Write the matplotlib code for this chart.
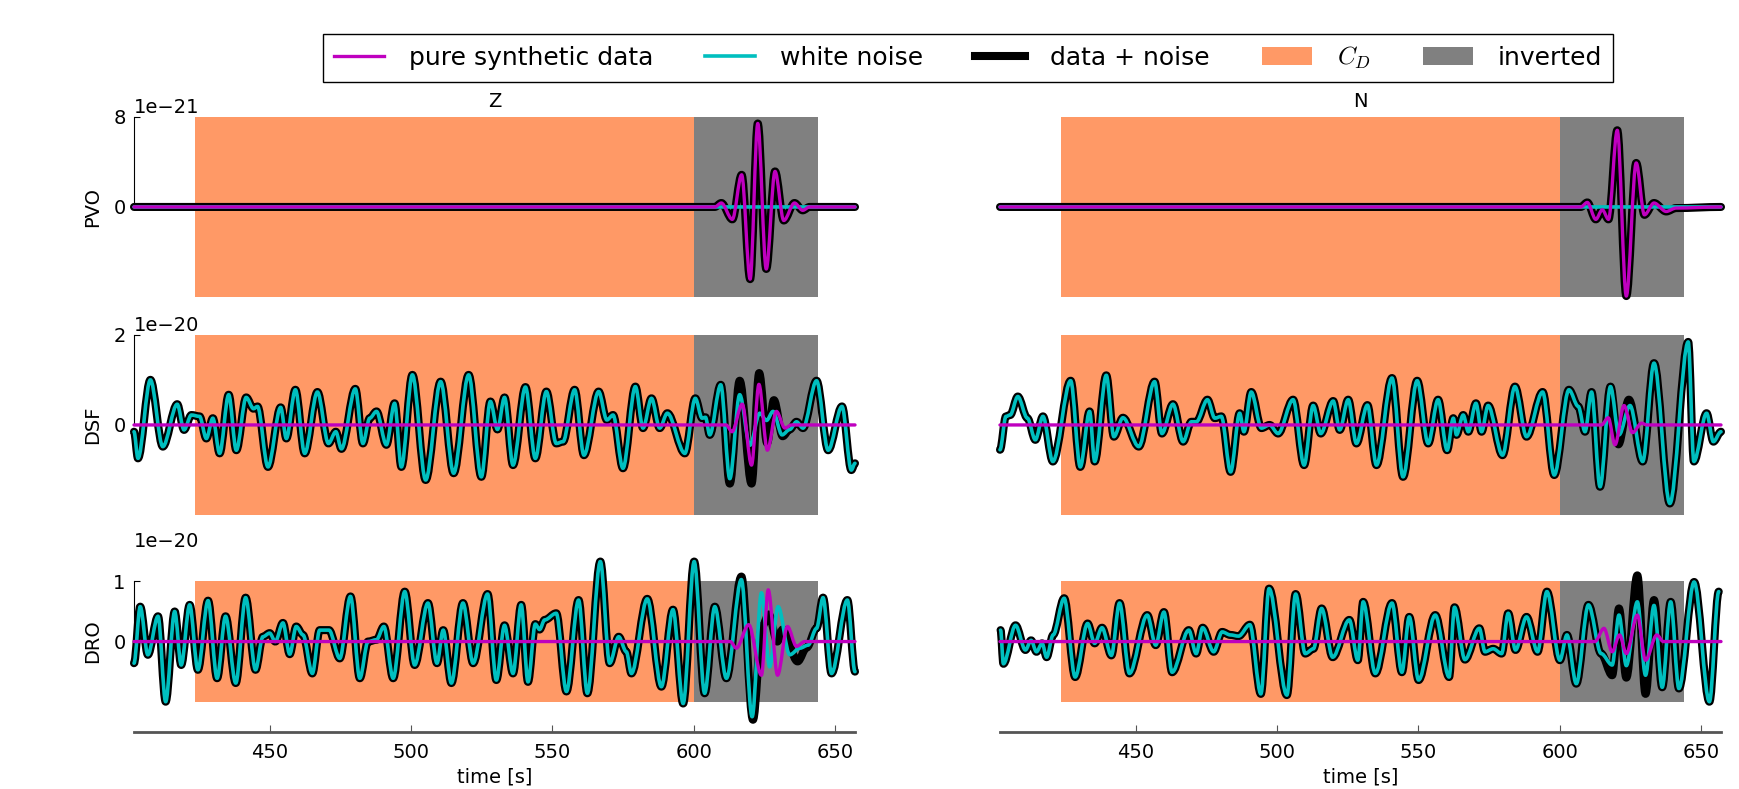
import numpy as np
import matplotlib
matplotlib.use('Agg')
import matplotlib.pyplot as plt
from matplotlib.path import Path
from matplotlib.patches import PathPatch, Patch
from matplotlib.lines import Line2D

# time windows [s]
cd_window = [423.5, 600.0]
inv_window = [600.0, 644.0]
t_range = [402.0, 657.1]

# ---- PVO (1e-21) : pure synthetic data, noise ~ 0 ----
pvo_z_sig_t = [402, 607.5, 609.8, 613.7, 617.0, 620.0, 622.7, 625.7, 628.8, 631.9, 635.7, 638.6, 641.0, 657.1]
pvo_z_sig_v = [0, 0, 0.35, -1.1, 2.85, -6.4, 7.4, -5.5, 3.15, -1.2, 0.35, -0.3, 0, 0]
pvo_n_sig_t = [402, 607.5, 609.8, 612.8, 615.1, 617.3, 620.4, 623.6, 627.1, 630.0, 633.4, 637.7, 641.2, 657.1]
pvo_n_sig_v = [0, 0, 0.4, -1.1, -0.25, -1.1, 6.8, -7.9, 3.9, -0.7, 0.35, -0.4, -0.1, 0]
pvo_noise_t = [402, 657.1]
pvo_noise_v = [0, 0]

# ---- DSF (1e-20) ----
dsf_z_noise_t = [402.0, 403.4, 407.8, 412.2, 417.3, 419.7, 422.3, 425.2, 427.6, 429.9, 432.3, 435.5,
                 438.2, 441.7, 444.3, 445.7, 449.4, 453.9, 455.9, 459.1, 462.4, 466.9, 470.8, 473.4,
                 475.4, 480.3, 483.0, 485.4, 487.8, 491.3, 494.2, 496.6, 500.5, 505.2, 510.5, 515.1,
                 520.4, 524.9, 528.1, 530.6, 533.1, 536.1, 540.5, 544.0, 547.9, 551.4, 553.8, 557.9,
                 561.2, 566.4, 569.3, 571.5, 575.0, 579.4, 582.1, 585.1, 588.0, 590.7, 596.9, 600.6,
                 603.0, 604.2, 605.7, 609.6, 612.8, 616.3, 619.9, 623.4, 625.8, 628.1, 631.3, 634.0,
                 636.4, 638.7, 643.5, 647.6, 652.5, 655.8, 657.1]
dsf_z_noise_v = [-0.15, -0.74, 1.0, -0.48, 0.46, -0.11, 0.22, 0.19, -0.3, 0.15, -0.63, 0.67,
                 -0.56, 0.61, 0.36, 0.41, -0.93, 0.39, -0.3, 0.78, -0.63, 0.73, -0.41, -0.15,
                 -0.53, 0.8, -0.41, 0.15, 0.3, -0.44, 0.48, -0.93, 1.11, -1.22, 0.96, -1.07,
                 1.11, -1.15, 0.52, -0.1, 0.61, -0.89, 0.84, -0.74, 0.74, -0.41, -0.37, 0.78,
                 -0.67, 0.74, 0.11, 0.22, -0.96, 0.85, -0.07, 0.59, -0.07, 0.26, -0.63, 0.59,
                 0.15, 0.17, -0.22, 0.89, -1.19, 0.67, -0.45, 0.26, 0.1, 0.3, -0.22, -0.1,
                 0.07, -0.07, 0.98, -0.56, 0.41, -1.0, -0.85]
dsf_z_sig_t = [402, 611.5, 613.6, 617.2, 620.5, 623.1, 626.1, 629.3, 632.3, 634.6, 657.1]
dsf_z_sig_v = [0, 0, -0.15, 0.46, -0.89, 0.9, -0.56, 0.3, -0.07, 0, 0]
dsf_z_sum_t = [612.8, 616.3, 620.5, 623.2, 626.0, 628.4, 631.5, 634.0, 636.4]
dsf_z_sum_v = [-1.3, 0.98, -1.3, 1.15, -0.4, 0.55, -0.25, -0.1, 0.07]

dsf_n_noise_t = [402.0, 404.1, 405.6, 408.3, 411.7, 414.5, 417.2, 420.7, 427.0, 430.4, 433.7, 435.5,
                 439.6, 442.3, 445.5, 451.1, 456.7, 459.3, 463.2, 466.8, 469.7, 471.5, 475.4, 478.0,
                 480.3, 483.6, 486.8, 488.3, 490.9, 494.5, 497.4, 500.4, 505.7, 509.6, 512.8, 515.5,
                 519.9, 522.2, 525.2, 528.1, 532.0, 535.2, 540.7, 544.6, 549.6, 553.5, 557.0, 560.2,
                 562.4, 563.5, 565.9, 567.7, 570.4, 572.4, 574.7, 579.8, 584.2, 588.3, 594.0, 598.1,
                 603.3, 606.6, 609.0, 611.3, 614.3, 618.0, 621.0, 624.9, 629.4, 633.4, 639.0, 645.5,
                 647.5, 652.0, 654.4, 657.1]
dsf_n_noise_v = [-0.55, 0.19, 0.22, 0.63, 0.15, -0.33, 0.19, -0.81, 0.98, -0.93, 0.3, -0.81,
                 1.1, -0.26, 0.16, -0.48, 0.96, -0.19, 0.46, -0.37, 0.07, 0.07, 0.56, 0.15,
                 0.19, -1.04, 0.26, -0.15, 0.73, -0.07, 0.0, -0.19, 0.56, -0.89, 0.43, -0.19,
                 0.53, -0.11, 0.56, -0.41, 0.44, -0.89, 1.04, -1.15, 0.98, -0.41, 0.56, -0.56,
                 0.15, -0.22, 0.22, -0.15, 0.48, -0.15, 0.43, -0.67, 0.85, -0.26, 0.73, -1.11,
                 0.78, 0.41, -0.15, 0.73, -1.37, 0.85, -0.22, 0.43, -0.81, 1.37, -1.74, 1.84,
                 -0.81, 0.26, -0.37, -0.15]
dsf_n_sig_t = [402, 614.8, 617.2, 619.6, 622.8, 625.8, 629.0, 630.8, 657.1]
dsf_n_sig_v = [0, 0, 0.16, -0.44, 0.43, -0.17, 0.04, 0, 0]
dsf_n_sum_t = [614.3, 618.0, 620.8, 624.5]
dsf_n_sum_v = [-1.37, 0.85, -0.43, 0.56]

# ---- DRO (1e-20) ----
dro_z_noise_t = [402.0, 404.2, 406.9, 410.5, 413.2, 416.4, 418.7, 421.7, 424.6, 428.2, 431.4, 434.4,
                 438.0, 441.5, 445.0, 447.6, 450.0, 452.0, 454.7, 457.1, 459.4, 461.8, 465.1, 467.7,
                 471.0, 474.8, 478.6, 481.9, 484.8, 487.8, 490.4, 493.7, 497.8, 501.3, 506.0, 509.2,
                 511.4, 514.3, 518.4, 522.0, 527.1, 530.2, 533.1, 536.1, 539.0, 541.4, 544.0, 545.5,
                 547.3, 551.4, 555.0, 559.3, 562.4, 567.0, 570.3, 573.5, 576.2, 578.0, 583.6, 588.6,
                 592.7, 596.3, 600.2, 603.9, 607.5, 611.6, 616.9, 620.7, 624.0, 626.9, 629.9, 634.0,
                 637.6, 640.5, 643.5, 645.8, 648.8, 654.4, 657.1]
dro_z_noise_v = [-0.36, 0.58, -0.22, 0.42, -1.0, 0.5, -0.39, 0.61, -0.47, 0.68, -0.61, 0.42,
                 -0.69, 0.73, -0.47, 0.08, 0.14, 0.0, 0.31, -0.21, 0.25, 0.11, -0.53, 0.19,
                 0.19, -0.28, 0.75, -0.61, 0.0, 0.03, 0.25, -0.61, 0.83, -0.39, 0.64, -0.36,
                 0.19, -0.69, 0.64, -0.36, 0.79, -0.64, 0.27, -0.53, 0.61, -0.67, 0.29, 0.2,
                 0.36, 0.47, -0.83, 0.69, -0.86, 1.33, -0.36, 0.08, -0.17, -0.53, 0.71, -0.75,
                 0.53, -1.03, 1.33, -0.86, 0.58, -0.61, 1.03, -1.25, 0.81, -0.42, 0.58, -0.22,
                 -0.11, -0.06, 0.22, 0.73, -0.53, 0.69, -0.5]
dro_z_sig_t = [402, 613.0, 615.1, 619.5, 624.0, 626.4, 629.7, 633.2, 636.4, 639.3, 657.1]
dro_z_sig_v = [0, 0, -0.11, 0.28, -0.56, 0.86, -0.56, 0.25, -0.08, 0, 0]
dro_z_sum_t = [616.9, 621.0, 624.2, 626.6, 629.6, 631.5, 636.8, 640.0]
dro_z_sum_v = [1.08, -1.3, 0.25, 0.45, 0.0, 0.2, -0.33, -0.1]

dro_n_noise_t = [402.2, 403.2, 407.5, 411.0, 413.0, 414.9, 416.9, 418.5, 420.8, 424.7, 428.6, 433.0,
                 435.5, 438.1, 441.4, 444.3, 447.8, 454.1, 457.1, 460.0, 462.9, 468.8, 471.4, 473.7,
                 477.6, 480.6, 483.5, 486.4, 490.4, 494.3, 497.2, 503.5, 506.6, 510.0, 512.9, 515.8,
                 519.7, 525.6, 528.6, 530.5, 534.8, 540.7, 544.2, 546.8, 550.1, 556.0, 560.9, 562.8,
                 566.5, 571.6, 573.6, 576.5, 579.5, 581.8, 584.4, 588.3, 592.2, 595.5, 600.1, 602.6,
                 605.9, 610.2, 614.7, 618.6, 621.0, 623.6, 627.5, 630.4, 633.4, 636.3, 639.3, 642.2,
                 647.6, 653.0, 656.3]
dro_n_noise_v = [0.19, -0.37, 0.27, -0.14, 0.02, -0.17, -0.03, -0.26, 0.11, 0.72, -0.59, 0.3,
                 -0.03, 0.23, -0.23, 0.64, -0.53, 0.44, -0.06, 0.49, -0.51, 0.19, -0.2, 0.23,
                 -0.17, 0.16, 0.11, 0.09, 0.28, -0.87, 0.88, -0.89, 0.79, -0.2, -0.12, 0.55,
                 -0.26, 0.36, -0.31, 0.66, -0.53, 0.64, -0.51, 0.41, -0.64, 0.44, -0.59, 0.57,
                 -0.3, 0.22, -0.17, -0.12, -0.2, 0.47, -0.14, 0.41, -0.17, 0.83, -0.31, 0.11,
                 -0.7, 0.61, -0.2, -0.39, 0.44, -0.4, 0.66, -0.56, 0.6, -0.76, 0.66, -0.78,
                 0.99, -1.0, 0.83]
dro_n_sig_t = [402, 612.5, 615.7, 618.6, 621.2, 623.6, 627.5, 630.4, 634.4, 636.7, 657.1]
dro_n_sig_v = [0, 0, 0.22, -0.17, 0.11, -0.2, 0.44, -0.31, 0.11, 0, 0]
dro_n_sum_t = [614.7, 618.6, 621.0, 623.6, 627.5, 630.4, 633.4]
dro_n_sum_v = [-0.2, -0.56, 0.55, -0.6, 1.1, -0.87, 0.69]

stations = ['PVO', 'DSF', 'DRO']
scales = [1e-21, 1e-20, 1e-20]
span_top = [8, 2, 1]
ylim_top = [8, 2, 1.5]
components = ['Z', 'N']

panels = {
    ('PVO', 'Z'): (pvo_noise_t, pvo_noise_v, pvo_z_sig_t, pvo_z_sig_v, pvo_z_sig_t, pvo_z_sig_v, (400, 660)),
    ('PVO', 'N'): (pvo_noise_t, pvo_noise_v, pvo_n_sig_t, pvo_n_sig_v, pvo_n_sig_t, pvo_n_sig_v, (400, 660)),
    ('DSF', 'Z'): (dsf_z_noise_t, dsf_z_noise_v, dsf_z_sig_t, dsf_z_sig_v, dsf_z_sum_t, dsf_z_sum_v, (611, 637)),
    ('DSF', 'N'): (dsf_n_noise_t, dsf_n_noise_v, dsf_n_sig_t, dsf_n_sig_v, dsf_n_sum_t, dsf_n_sum_v, (613, 626)),
    ('DRO', 'Z'): (dro_z_noise_t, dro_z_noise_v, dro_z_sig_t, dro_z_sig_v, dro_z_sum_t, dro_z_sum_v, (613, 641)),
    ('DRO', 'N'): (dro_n_noise_t, dro_n_noise_v, dro_n_sig_t, dro_n_sig_v, dro_n_sum_t, dro_n_sum_v, (613, 635)),
}

c_sig = '#bf00bf'
c_noise = '#00bfbf'
c_cd = '#ff9966'
c_inv = '#808080'


def trace(ax, t, v, scale, **kw):
    # smooth curve through the picked extrema (flat tangent at each point)
    t = np.asarray(t, float)
    v = np.asarray(v, float) * scale
    verts = [(t[0], v[0])]
    codes = [Path.MOVETO]
    for i in range(1, len(t)):
        d = (t[i] - t[i - 1]) / 3.0
        verts += [(t[i - 1] + d, v[i - 1]), (t[i] - d, v[i]), (t[i], v[i])]
        codes += [Path.CURVE4] * 3
    ax.add_patch(PathPatch(Path(verts, codes), fill=False, clip_on=False,
                           capstyle='round', joinstyle='round', **kw))


def merge(nt, nv, wt, wv, win):
    pts = [(a, b) for a, b in zip(nt, nv) if a < win[0] or a > win[1]]
    pts = sorted(pts + list(zip(wt, wv)))
    return [p[0] for p in pts], [p[1] for p in pts]


W, H = 1739, 789
fig = plt.figure(figsize=(W / 100, H / 100), dpi=100)

col_left = [134, 1000]
ax_w = 721
row_top = [116.7, 334.7, 551.3]
ax_h = 180.5

for r, st in enumerate(stations):
    sc = scales[r]
    for c, comp in enumerate(components):
        ax = fig.add_axes([col_left[c] / W, 1 - (row_top[r] + ax_h) / H, ax_w / W, ax_h / H])
        nt, nv, s_t, s_v, wt, wv, win = panels[(st, comp)]
        top = span_top[r] * sc
        ax.fill_between(cd_window, -top, top, color=c_cd, lw=0, zorder=0)
        ax.fill_between(inv_window, -top, top, color=c_inv, lw=0, zorder=0)
        bt, bv = merge(nt, nv, wt, wv, win)
        trace(ax, bt, bv, sc, edgecolor='black', lw=5.8, zorder=2)
        trace(ax, nt, nv, sc, edgecolor=c_noise, lw=2.6, zorder=3)
        trace(ax, s_t, s_v, sc, edgecolor=c_sig, lw=2.4, zorder=4)
        ax.set_xlim(t_range)
        ax.set_ylim(-ylim_top[r] * sc, ylim_top[r] * sc)
        ax.spines['top'].set_visible(False)
        ax.spines['right'].set_visible(False)
        if r == 0:
            ax.set_title(comp, fontsize=14, pad=7)
        if c == 0:
            ax.set_yticks([0, top])
            ax.spines['left'].set_bounds(0, top)
            ax.tick_params(axis='y', direction='in', length=4, labelsize=14, pad=6)
            ax.yaxis.get_offset_text().set_fontsize(14)
            ax.set_ylabel(st, fontsize=14)
            ax.yaxis.set_label_coords(-0.044, 0.5)
        else:
            ax.set_yticks([])
            ax.spines['left'].set_visible(False)
        if r == 2:
            ax.set_xticks([450, 500, 550, 600, 650])
            ax.spines['bottom'].set_color('#555555')
            ax.spines['bottom'].set_linewidth(2)
            ax.tick_params(axis='x', direction='in', length=5, color='#555555',
                           labelsize=14, pad=8)
            ax.set_xlabel('time [s]', fontsize=14, labelpad=4)
        else:
            ax.set_xticks([])
            ax.spines['bottom'].set_visible(False)

handles = [Line2D([], [], color=c_sig, lw=2.4),
           Line2D([], [], color=c_noise, lw=2.6),
           Line2D([], [], color='black', lw=5.8),
           Patch(color=c_cd, lw=0),
           Patch(color=c_inv, lw=0)]
labels = ['pure synthetic data', 'white noise', 'data + noise', r'$C_D$', 'inverted']
plt.rcParams['mathtext.fontset'] = 'cm'
leg = fig.legend(handles, labels, loc='center', bbox_to_anchor=(968 / W, 1 - 58 / H),
                 ncol=5, fontsize=18, fancybox=False, edgecolor='black', framealpha=1,
                 handlelength=2.0, handletextpad=1.0, columnspacing=2.08, borderpad=0.45)
leg.get_frame().set_linewidth(1.0)

fig.savefig('out.png', dpi=100)
